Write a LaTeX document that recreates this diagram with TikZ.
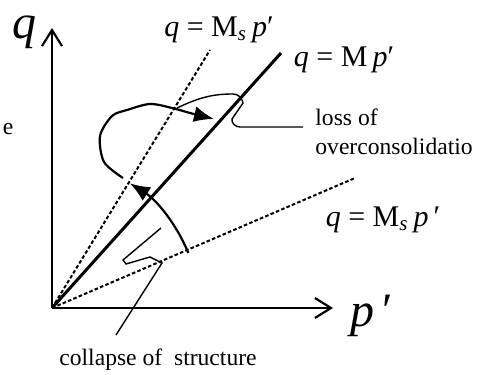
\documentclass[tikz,border=0pt]{standalone}
\usepackage{fontspec}
\setmainfont{Liberation Serif}[ItalicFont={Liberation Serif Italic}]
\usepackage{tikz}
\usetikzlibrary{arrows.meta,positioning,calc}

\tikzset{
    axisline/.style={line width=1.1pt, -{Straight Barb[length=8pt,width=10pt,line width=1.1pt]}},
    critline/.style={line width=1.5pt},
    strucline/.style={line width=1pt, dash pattern=on 1.8pt off 1.1pt},
    stresspath/.style={line width=1.1pt, -{Latex[length=10pt,width=8pt]}},
    leader/.style={line width=0.7pt},
    eqn/.style={font=\fontsize{15}{18}\selectfont, inner sep=0pt},
    note/.style={font=\fontsize{11.8}{14.5}\selectfont, inner sep=0pt},
    axlabel/.style={font=\fontsize{24}{26}\selectfont, inner sep=0pt}
}

\begin{document}
\begin{tikzpicture}[x=0.5pt, y=0.5pt]
            \useasboundingbox (0,0) rectangle (486,374);
            % axes
            \coordinate (O) at (52,66);
            \coordinate (qtop) at (52,346);
            \coordinate (pend) at (333,66);
            \draw[axisline] (O) -- (qtop);
            \draw[axisline] (O) -- (pend);
            \node (qlabel) at (24,342) [axlabel] {\textit{q}};
            \node (plabel) at (372,58) [axlabel] {\textit{p}\,′};
            % critical state and structure lines
            \coordinate (Mend) at (281,321);
            \coordinate (Msup) at (210,324);
            \coordinate (Mslow) at (355,196);
            \draw[critline] (O) -- (Mend);
            \draw[strucline] (O) -- (Msup);
            \draw[strucline] (O) -- (Mslow);
            \node (eqMsup) at (219,344) [eqn] {\textit{q} = M\textsubscript{\textit{s}}\,\textit{p}′};
            \node (eqM) at (344,314) [eqn] {\textit{q} = M\,\textit{p}′};
            \node (eqMslow) at (383,154) [eqn] {\textit{q} = M\textsubscript{\textit{s}}\,\textit{p}\,′};
            % stress path
            \draw[stresspath] ([shift={(O)}]22:147) arc[start angle=22, end angle=58, radius=147];
            \draw[stresspath] plot[smooth] coordinates {(123,196) (104,212) (100,238) (112,258) (127,264) (150,270) (172,266) (190,261) (214,255)};
            % labels
            \node (loss) at (315,242) [note, anchor=west, align=left] {loss of\\overconsolidatio};
            \node (collapse) at (158,14) [note] {collapse of\ \ structure};
            \node (cut) at (8,245) [note] {e};
            \coordinate (lossend) at ([shift={(-12,5)}]loss.west);
            \coordinate (collapseend) at (116,39);
            \draw[leader] (lossend) -- (240,247) to[out=180, in=-100] (232,255) -- (243,271)
                to[out=100, in=0] (233,280) to[out=180, in=25] (177,266);
            \draw[leader] (collapseend) -- (162,111) -- (150,117) -- (126,110) -- (123,114) -- (161,146);
        \end{tikzpicture}
\end{document}
